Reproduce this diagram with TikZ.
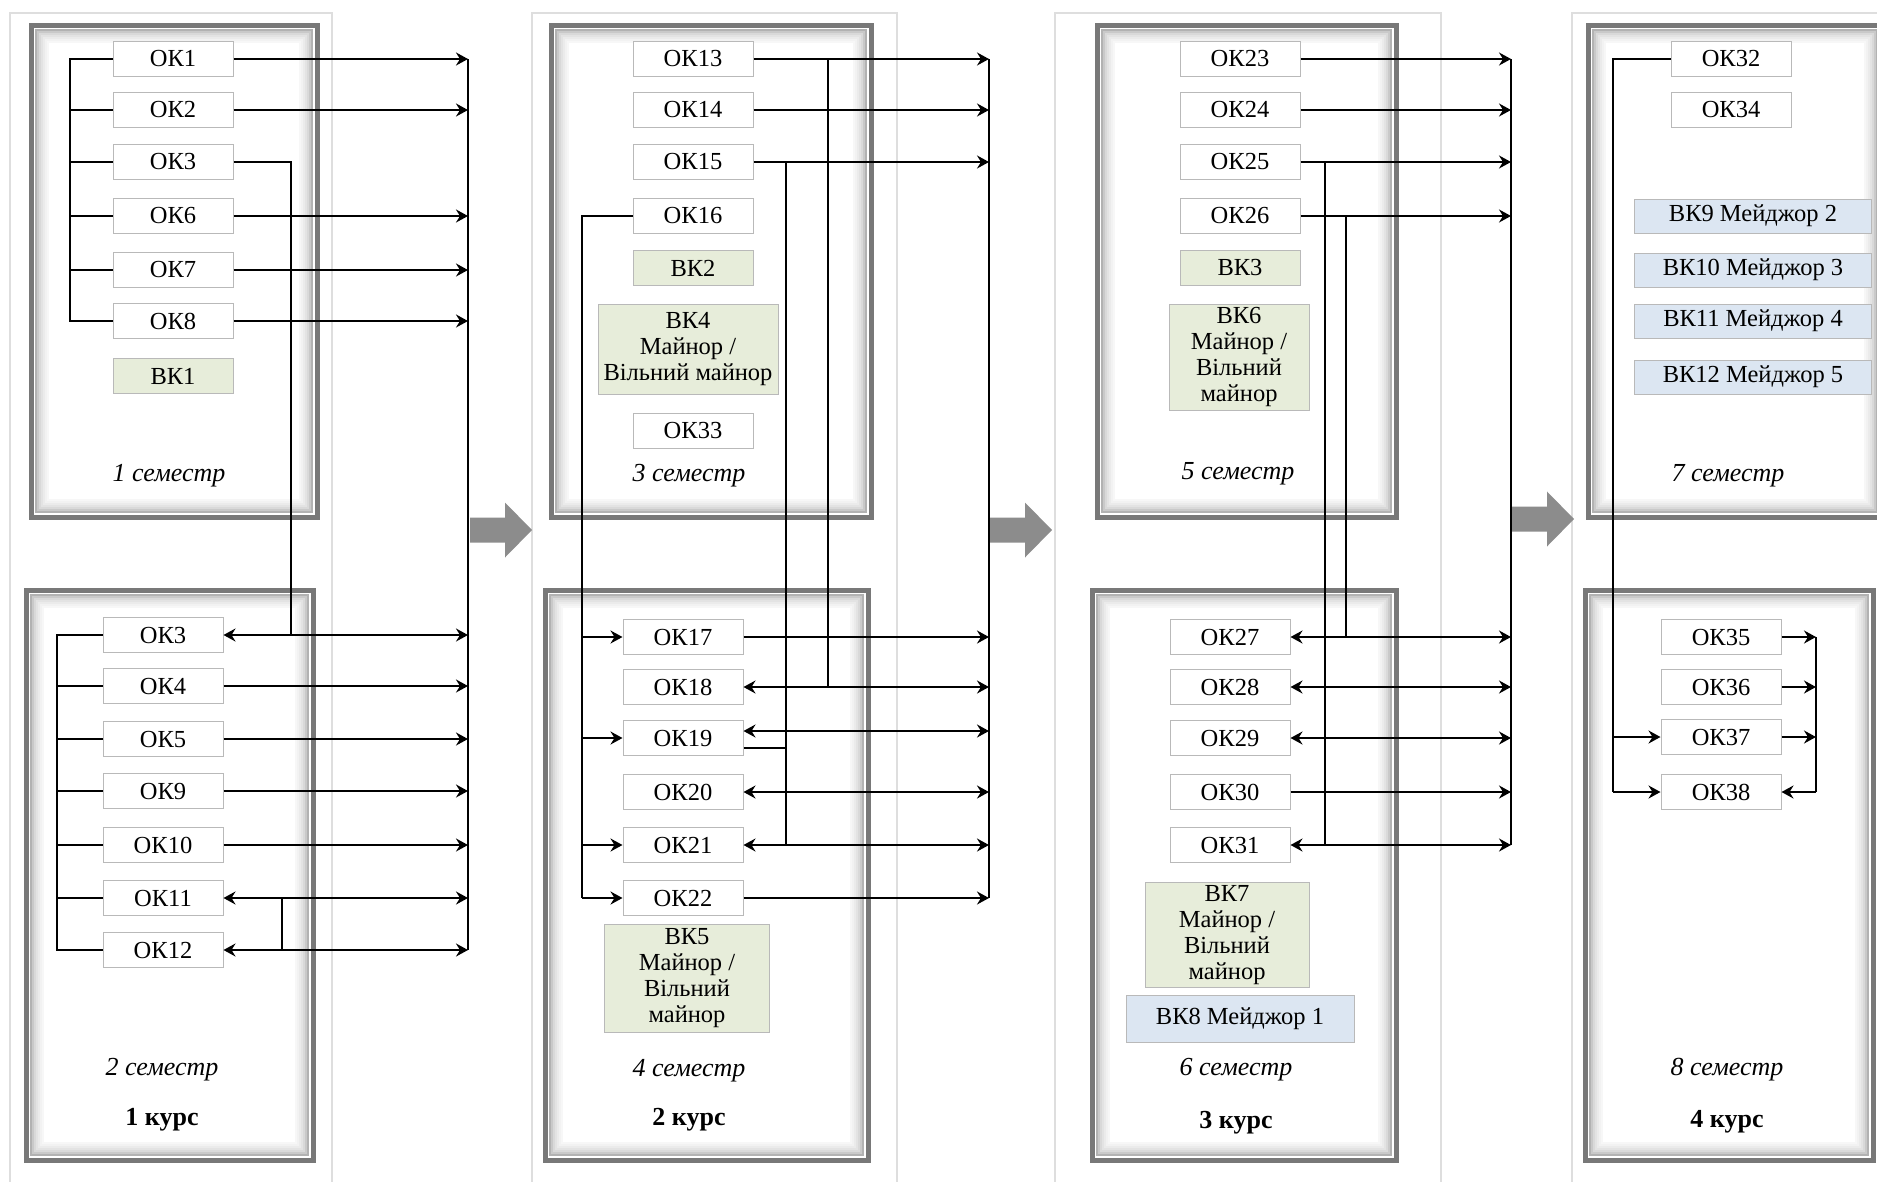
\documentclass[tikz,border=0pt]{standalone}
\usepackage{fontspec}
\setmainfont{Liberation Serif}
\usetikzlibrary{arrows.meta}
\definecolor{vkgreen}{RGB}{231,237,218}
\definecolor{majblue}{RGB}{220,230,242}
\definecolor{framegray}{RGB}{120,120,120}
\definecolor{panelgray}{RGB}{222,222,222}
\definecolor{arrowgray}{RGB}{140,140,140}

\newcommand{\semframe}[4]{%
  \fill[white] (#1,#2) rectangle (#3,#4);
  \foreach \dd/\cc in {17/3,15/5,13/8,11/11,9/15,7/21,5/30} {%
    \draw[line width = 2.2pt, black!\cc] (#1+\dd,#2+\dd) rectangle (#3-\dd,#4-\dd);}
  \draw[line width = 5pt, framegray] (#1,#2) rectangle (#3,#4);}
\newcommand{\bigarrow}[2]{%
  \fill[arrowgray] (#1,#2-12.5) -- (#1+35,#2-12.5) -- (#1+35,#2-27.5) -- (#1+62,#2)
    -- (#1+35,#2+27.5) -- (#1+35,#2+12.5) -- (#1,#2+12.5) -- cycle;}

\begin{document}
\begin{tikzpicture}[x = 1pt, y = -1pt,
                        ok/.style = {draw = gray!55, fill = white, line width = 1pt, minimum width = 120pt,
                                     minimum height = 35pt, inner sep = 0pt, font = \fontsize{24.5}{26}\selectfont},
                        vk/.style = {ok, fill = vkgreen, align = center},
                        major/.style = {ok, fill = majblue, minimum width = 237pt, minimum height = 34pt},
                        sem/.style = {font = \fontsize{26}{28}\selectfont\itshape},
                        kurs/.style = {font = \fontsize{26}{28}\selectfont\bfseries},
                        arr/.style = {-{Stealth[length = 12pt, width = 13pt, inset = 4pt]}, line width = 2pt},
                        biarr/.style = {{Stealth[length = 12pt, width = 13pt, inset = 4pt]}-{Stealth[length = 12pt, width = 13pt, inset = 4pt]}, line width = 2pt},
                        link/.style = {line width = 1.6pt}]
      \useasboundingbox (0, 0) rectangle (1877, 1181);
      \clip (0, 0) rectangle (1877, 1181);
      \draw [panelgray, line width = 1.5pt] (10, 13) rectangle (332, 1200);
      \draw [panelgray, line width = 1.5pt] (532, 13) rectangle (897, 1200);
      \draw [panelgray, line width = 1.5pt] (1055, 13) rectangle (1441, 1200);
      \draw [panelgray, line width = 1.5pt] (1572, 13) rectangle (1900, 1200);
      \semframe{31}{25}{317}{517} \semframe{26}{590}{313}{1160}
      \semframe{551}{25}{871}{517} \semframe{545}{590}{868}{1160}
      \semframe{1097}{25}{1396}{517} \semframe{1092}{590}{1396}{1160}
      \semframe{1588}{25}{1882}{517} \semframe{1585}{590}{1873}{1160}
      \bigarrow{470}{530} \bigarrow{990}{530} \bigarrow{1512}{519}
      % 1 kurs
      \node [ok] (ok1) at (173, 59) {ОК1};
      \node [ok] (ok2) at (173, 110) {ОК2};
      \node [ok] (ok3a) at (173, 162) {ОК3};
      \node [ok] (ok6) at (173, 216) {ОК6};
      \node [ok] (ok7) at (173, 270) {ОК7};
      \node [ok] (ok8) at (173, 321) {ОК8};
      \node [vk] (vk1) at (173, 376) {ВК1};
      \node [sem] (sem1) at (169, 476) {1 семестр};
      \node [ok] (ok3b) at (163, 635) {ОК3};
      \node [ok] (ok4) at (163, 686) {ОК4};
      \node [ok] (ok5) at (163, 739) {ОК5};
      \node [ok] (ok9) at (163, 791) {ОК9};
      \node [ok] (ok10) at (163, 845) {ОК10};
      \node [ok] (ok11) at (163, 898) {ОК11};
      \node [ok] (ok12) at (163, 950) {ОК12};
      \node [sem] (sem2) at (162, 1070) {2 семестр};
      \node [kurs] (kurs1) at (162, 1120) {1 курс};
      % 2 kurs
      \node [ok] (ok13) at (693, 59) {ОК13};
      \node [ok] (ok14) at (693, 110) {ОК14};
      \node [ok] (ok15) at (693, 162) {ОК15};
      \node [ok] (ok16) at (693, 216) {ОК16};
      \node [vk] (vk2) at (693, 268) {ВК2};
      \node [vk, minimum width = 180pt, minimum height = 90pt] (vk4) at (688, 349) {ВК4\\Майнор /\\Вільний майнор};
      \node [ok] (ok33) at (693, 431) {ОК33};
      \node [sem] (sem3) at (689, 476) {3 семестр};
      \node [ok] (ok17) at (683, 637) {ОК17};
      \node [ok] (ok18) at (683, 687) {ОК18};
      \node [ok] (ok19) at (683, 738) {ОК19};
      \node [ok] (ok20) at (683, 792) {ОК20};
      \node [ok] (ok21) at (683, 845) {ОК21};
      \node [ok] (ok22) at (683, 898) {ОК22};
      \node [vk, minimum width = 165pt, minimum height = 108pt] (vk5) at (687, 978) {ВК5\\Майнор /\\Вільний\\майнор};
      \node [sem] (sem4) at (689, 1071) {4 семестр};
      \node [kurs] (kurs2) at (689, 1120) {2 курс};
      % 3 kurs
      \node [ok] (ok23) at (1240, 59) {ОК23};
      \node [ok] (ok24) at (1240, 110) {ОК24};
      \node [ok] (ok25) at (1240, 162) {ОК25};
      \node [ok] (ok26) at (1240, 216) {ОК26};
      \node [vk] (vk3) at (1240, 268) {ВК3};
      \node [vk, minimum width = 140pt, minimum height = 106pt] (vk6) at (1239, 357) {ВК6\\Майнор /\\Вільний\\майнор};
      \node [sem] (sem5) at (1238, 474) {5 семестр};
      \node [ok] (ok27) at (1230, 637) {ОК27};
      \node [ok] (ok28) at (1230, 687) {ОК28};
      \node [ok] (ok29) at (1230, 738) {ОК29};
      \node [ok] (ok30) at (1230, 792) {ОК30};
      \node [ok] (ok31) at (1230, 845) {ОК31};
      \node [vk, minimum width = 164pt, minimum height = 105pt] (vk7) at (1227, 935) {ВК7\\Майнор /\\Вільний\\майнор};
      \node [major, minimum width = 228pt, minimum height = 47pt] (vk8) at (1240, 1019) {ВК8 Мейджор 1};
      \node [sem] (sem6) at (1236, 1070) {6 семестр};
      \node [kurs] (kurs3) at (1236, 1123) {3 курс};
      % 4 kurs
      \node [ok] (ok32) at (1731, 59) {ОК32};
      \node [ok] (ok34) at (1731, 110) {ОК34};
      \node [major] (vk9) at (1753, 216) {ВК9 Мейджор 2};
      \node [major] (vk10) at (1753, 270) {ВК10 Мейджор 3};
      \node [major] (vk11) at (1753, 321) {ВК11 Мейджор 4};
      \node [major] (vk12) at (1753, 377) {ВК12 Мейджор 5};
      \node [sem] (sem7) at (1728, 476) {7 семестр};
      \node [ok] (ok35) at (1721, 637) {ОК35};
      \node [ok] (ok36) at (1721, 687) {ОК36};
      \node [ok] (ok37) at (1721, 737) {ОК37};
      \node [ok] (ok38) at (1721, 792) {ОК38};
      \node [sem] (sem8) at (1727, 1070) {8 семестр};
      \node [kurs] (kurs4) at (1727, 1122) {4 курс};
      % bus lines and links
      \coordinate (lb1) at (70, 0); \coordinate (lb2) at (57, 0); \coordinate (lk3) at (291, 0);
      \coordinate (lk11) at (282, 0); \coordinate (bus1) at (468, 0);
      \coordinate (lb16) at (582, 0); \coordinate (lk13) at (828, 0); \coordinate (lk15) at (786, 0);
      \coordinate (bus2) at (989, 0);
      \coordinate (lk25) at (1325, 0); \coordinate (lk26) at (1346, 0); \coordinate (bus3) at (1511, 0);
      \coordinate (lb32) at (1613, 0); \coordinate (bus4) at (1816, 0);
      \draw [link] (ok1.west) -| (lb1 |- ok8.west) -- (ok8.west);
      \draw [link] (ok2.west) -- (ok2.west -| lb1); \draw [link] (ok3a.west) -- (ok3a.west -| lb1);
      \draw [link] (ok6.west) -- (ok6.west -| lb1); \draw [link] (ok7.west) -- (ok7.west -| lb1);
      \draw [arr] (ok1.east) -- (ok1.east -| bus1); \draw [arr] (ok2.east) -- (ok2.east -| bus1);
      \draw [arr] (ok6.east) -- (ok6.east -| bus1); \draw [arr] (ok7.east) -- (ok7.east -| bus1);
      \draw [arr] (ok8.east) -- (ok8.east -| bus1);
      \draw [link] (ok3a.east) -| (lk3 |- ok3b.east);
      \draw [link] (ok3b.west) -| (lb2 |- ok12.west) -- (ok12.west);
      \draw [link] (ok4.west) -- (ok4.west -| lb2); \draw [link] (ok5.west) -- (ok5.west -| lb2);
      \draw [link] (ok9.west) -- (ok9.west -| lb2); \draw [link] (ok10.west) -- (ok10.west -| lb2);
      \draw [link] (ok11.west) -- (ok11.west -| lb2);
      \draw [biarr] (ok3b.east) -- (ok3b.east -| bus1);
      \draw [arr] (ok4.east) -- (ok4.east -| bus1); \draw [arr] (ok5.east) -- (ok5.east -| bus1);
      \draw [arr] (ok9.east) -- (ok9.east -| bus1); \draw [arr] (ok10.east) -- (ok10.east -| bus1);
      \draw [biarr] (ok11.east) -- (ok11.east -| bus1); \draw [biarr] (ok12.east) -- (ok12.east -| bus1);
      \draw [link] (ok11.east -| lk11) -- (ok12.east -| lk11);
      \draw [line width = 2pt] (ok1.east -| bus1) -- (ok12.east -| bus1);
      \draw [link] (ok16.west) -| (lb16 |- ok22.west);
      \draw [arr] (ok17.west -| lb16) -- (ok17.west); \draw [arr] (ok19.west -| lb16) -- (ok19.west);
      \draw [arr] (ok21.west -| lb16) -- (ok21.west); \draw [arr] (ok22.west -| lb16) -- (ok22.west);
      \draw [arr] (ok13.east) -- (ok13.east -| bus2); \draw [arr] (ok14.east) -- (ok14.east -| bus2);
      \draw [arr] (ok15.east) -- (ok15.east -| bus2);
      \draw [link] (ok13.east -| lk13) -- (ok18.east -| lk13);
      \draw [link] (ok15.east -| lk15) -- (ok21.east -| lk15);
      \draw [link] ([yshift = -10pt]ok19.east) -- ([yshift = -10pt]ok19.east -| lk15);
      \draw [arr] (ok17.east) -- (ok17.east -| bus2); \draw [biarr] (ok18.east) -- (ok18.east -| bus2);
      \draw [biarr] ([yshift = 7pt]ok19.east) -- ([yshift = 7pt]ok19.east -| bus2);
      \draw [biarr] (ok20.east) -- (ok20.east -| bus2); \draw [biarr] (ok21.east) -- (ok21.east -| bus2);
      \draw [arr] (ok22.east) -- (ok22.east -| bus2);
      \draw [line width = 2pt] (ok13.east -| bus2) -- (ok22.east -| bus2);
      \draw [arr] (ok23.east) -- (ok23.east -| bus3); \draw [arr] (ok24.east) -- (ok24.east -| bus3);
      \draw [arr] (ok25.east) -- (ok25.east -| bus3); \draw [arr] (ok26.east) -- (ok26.east -| bus3);
      \draw [link] (ok25.east -| lk25) -- (ok31.east -| lk25);
      \draw [link] (ok26.east -| lk26) -- (ok27.east -| lk26);
      \draw [biarr] (ok27.east) -- (ok27.east -| bus3); \draw [biarr] (ok28.east) -- (ok28.east -| bus3);
      \draw [biarr] (ok29.east) -- (ok29.east -| bus3); \draw [arr] (ok30.east) -- (ok30.east -| bus3);
      \draw [biarr] (ok31.east) -- (ok31.east -| bus3);
      \draw [line width = 2pt] (ok23.east -| bus3) -- (ok31.east -| bus3);
      \draw [link] (ok32.west) -| (lb32 |- ok38.west);
      \draw [arr] (ok37.west -| lb32) -- (ok37.west); \draw [arr] (ok38.west -| lb32) -- (ok38.west);
      \draw [arr] (ok35.east) -- (ok35.east -| bus4); \draw [arr] (ok36.east) -- (ok36.east -| bus4);
      \draw [arr] (ok37.east) -- (ok37.east -| bus4); \draw [arr] (ok38.east -| bus4) -- (ok38.east);
      \draw [line width = 2pt] (ok35.east -| bus4) -- (ok38.east -| bus4);
    \end{tikzpicture}
\end{document}
